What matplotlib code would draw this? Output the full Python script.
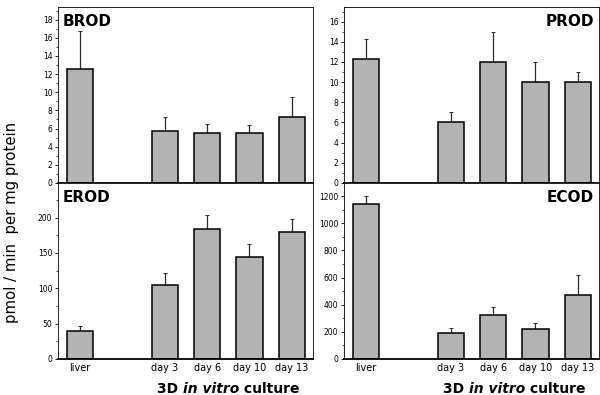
import numpy as np
import matplotlib
matplotlib.use("Agg")
import matplotlib.pyplot as plt
from matplotlib.ticker import MultipleLocator

categories = ["liver", "day 3", "day 6", "day 10", "day 13"]
positions = [0, 2, 3, 4, 5]

brod_mean = [12.6, 5.7, 5.5, 5.5, 7.3]
brod_top = [16.8, 7.3, 6.5, 6.4, 9.5]
prod_mean = [12.3, 6.0, 12.0, 10.0, 10.0]
prod_top = [14.3, 7.0, 15.0, 12.0, 11.0]
erod_mean = [40, 104, 184, 145, 180]
erod_top = [46, 122, 204, 163, 198]
ecod_mean = [1140, 190, 325, 220, 470]
ecod_top = [1200, 230, 380, 262, 620]

panels = [
    ("BROD", brod_mean, brod_top, 19.4, 2, 1, "left", True),
    ("PROD", prod_mean, prod_top, 17.45, 2, 1, "right", True),
    ("EROD", erod_mean, erod_top, 249, 50, 25, "left", False),
    ("ECOD", ecod_mean, ecod_top, 1296, 200, 100, "right", False),
]

rects = [
    [58 / 600, 212 / 395, 255 / 600, 176 / 395],
    [344 / 600, 212 / 395, 255 / 600, 176 / 395],
    [58 / 600, 36 / 395, 255 / 600, 176 / 395],
    [344 / 600, 36 / 395, 255 / 600, 176 / 395],
]

fig = plt.figure(figsize=(6, 3.95), dpi=100)
bar_color = "#b3b3b3"


def culture_label(ax, xc, y):
    # "3D in vitro culture" with italic middle, centred on data x = xc
    parts = [("3D ", "normal"), ("in vitro", "italic"), (" culture", "normal")]
    tr = ax.get_xaxis_transform()
    texts = [ax.text(0, y, s, transform=tr, ha="left", va="center", fontsize=10,
                     fontweight="bold", style=st) for s, st in parts]
    fig.canvas.draw()
    r = fig.canvas.get_renderer()
    widths = [t.get_window_extent(r).width for t in texts]
    x0 = ax.transData.transform((xc, 0))[0] - sum(widths) / 2
    for t, w in zip(texts, widths):
        xd = ax.transData.inverted().transform((x0, 0))[0]
        t.set_x(xd)
        x0 += w


for rect, (name, mean, top, ymax, major, minor, side, is_top) in zip(rects, panels):
    ax = fig.add_axes(rect)
    err = np.array(top) - np.array(mean)
    ax.bar(positions, mean, width=0.62, color=bar_color, edgecolor="black",
           linewidth=1.1, zorder=2)
    ax.errorbar(positions, mean, yerr=[np.zeros(len(err)), err], fmt="none",
                ecolor="#2a2a2a", elinewidth=0.9, capsize=1.2, capthick=0.7, zorder=1)
    ax.set_xlim(-0.52, 5.5)
    ax.set_ylim(0, ymax)
    ax.yaxis.set_major_locator(MultipleLocator(major))
    ax.yaxis.set_minor_locator(MultipleLocator(minor))
    ax.tick_params(axis="y", which="major", length=2.5, width=0.6, labelsize=5.5, pad=1.5)
    ax.tick_params(axis="y", which="minor", length=1.5, width=0.5)
    for s in ["top", "right", "left"]:
        ax.spines[s].set_linewidth(0.6)
    ax.spines["bottom"].set_linewidth(1.3)
    if is_top:
        ax.set_xticks([])
    else:
        ax.set_xticks(positions)
        ax.set_xticklabels(categories, fontsize=7)
        ax.tick_params(axis="x", length=0, pad=3)
        culture_label(ax, 3.5, -0.17)
    if side == "left":
        ax.text(0.02, 0.96, name, transform=ax.transAxes, ha="left", va="top",
                fontsize=11, fontweight="bold")
    else:
        ax.text(0.98, 0.96, name, transform=ax.transAxes, ha="right", va="top",
                fontsize=11, fontweight="bold")

fig.text(0.02, 0.438, "pmol / min  per mg protein", rotation=90, ha="center",
         va="center", fontsize=10.7)

fig.savefig("out.png", dpi=100)
